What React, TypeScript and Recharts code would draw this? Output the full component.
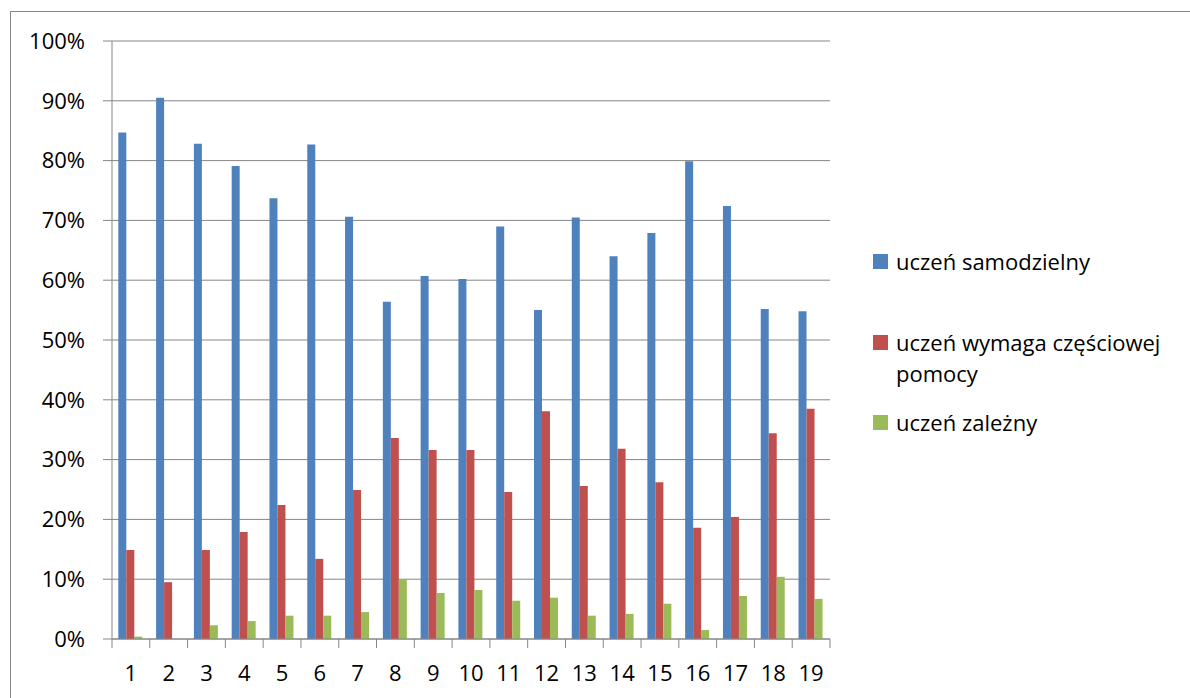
import React from "react";
import { Bar, BarChart, CartesianGrid, Legend, XAxis, YAxis } from "recharts";

// survey results per item, in percent
const categories = ["1", "2", "3", "4", "5", "6", "7", "8", "9", "10", "11", "12", "13", "14", "15", "16", "17", "18", "19"];
const samodzielny = [84.7, 90.5, 82.8, 79.1, 73.7, 82.7, 70.6, 56.4, 60.7, 60.2, 69.0, 55.0, 70.5, 64.0, 67.9, 79.9, 72.4, 55.2, 54.8];
const wymagaPomocy = [14.9, 9.5, 14.9, 17.9, 22.4, 13.4, 24.9, 33.6, 31.6, 31.6, 24.6, 38.1, 25.6, 31.8, 26.2, 18.6, 20.4, 34.4, 38.5];
const zalezny = [0.4, 0, 2.3, 3.0, 3.9, 3.9, 4.5, 10.0, 7.7, 8.2, 6.4, 6.9, 3.9, 4.2, 5.9, 1.5, 7.2, 10.4, 6.7];
const seriesNames = ["uczeń samodzielny", "uczeń wymaga częściowej pomocy", "uczeń zależny"];
const yTicks = [0, 10, 20, 30, 40, 50, 60, 70, 80, 90, 100];

const COLORS = ["#4F81BD", "#C0504D", "#9BBB59"];
const GREY = "#868686";
const FONT = '"Open Sans", sans-serif';

const data = categories.map((name, i) => ({
  name,
  a: samodzielny[i],
  b: wymagaPomocy[i],
  c: zalezny[i],
}));

// category labels centred, tick marks on the category boundaries (Excel style)
const CategoryTick = (props: any) => {
  const { x, y, payload } = props;
  const half = payload.offset || 18.9;
  const isLast = payload.value === categories[categories.length - 1];
  return (
    <g>
      <line x1={x - half} x2={x - half} y1={y} y2={y + 9} stroke={GREY} />
      {isLast && <line x1={x + half} x2={x + half} y1={y} y2={y + 9} stroke={GREY} />}
      <text x={x} y={y + 42} textAnchor="middle" fontSize={22} fill="#000" fontFamily={FONT}>
        {payload.value}
      </text>
    </g>
  );
};

const entryGaps = [0, 50.5, 19];

const renderLegend = (props: any) => {
  const items = props.payload || [];
  return (
    <div style={{ fontSize: 22, lineHeight: "30.5px", color: "#000", fontFamily: FONT }}>
      {items.map((it: any, i: number) => (
        <div key={it.value} style={{ position: "relative", paddingLeft: 23, width: 290, marginTop: entryGaps[i] }}>
          <span
            style={{ position: "absolute", left: 0, top: 8, width: 15, height: 15, background: it.color }}
          />
          {it.value}
        </div>
      ))}
    </div>
  );
};

export default function App() {
  return (
    <div style={{ position: "fixed", left: 0, top: 0, width: 1190, height: 698, overflow: "hidden", background: "#fff", fontFamily: FONT }}>
      <div style={{ position: "absolute", left: 10, top: 11, width: 1300, height: 800, border: `1px solid ${GREY}` }} />
      <div style={{ position: "absolute", left: 0, top: 0 }}>
        <BarChart
          width={1190}
          height={698}
          data={data}
          margin={{ top: 41, right: 360, bottom: 0, left: 0 }}
          barCategoryGap="16.7%"
          barGap={0}
        >
          <CartesianGrid horizontal vertical={false} stroke={GREY} strokeWidth={1} />
          <XAxis
            dataKey="name"
            interval={0}
            height={59}
            tickLine={false}
            tickSize={0}
            tickMargin={0}
            axisLine={{ stroke: GREY }}
            tick={<CategoryTick />}
          />
          <YAxis
            width={112}
            domain={[0, 100]}
            ticks={yTicks}
            interval={0}
            tickFormatter={(v: number) => `${v}%`}
            tickSize={9}
            tickMargin={18}
            tickLine={{ stroke: GREY }}
            axisLine={{ stroke: GREY }}
            tick={{ fontSize: 22, fill: "#000", fontFamily: FONT }}
          />
          <Legend
            layout="vertical"
            align="center"
            verticalAlign="middle"
            content={renderLegend}
            wrapperStyle={{ left: 873, top: 246, width: 320 }}
          />
          <Bar dataKey="a" name={seriesNames[0]} fill={COLORS[0]} isAnimationActive={false} />
          <Bar dataKey="b" name={seriesNames[1]} fill={COLORS[1]} isAnimationActive={false} />
          <Bar dataKey="c" name={seriesNames[2]} fill={COLORS[2]} isAnimationActive={false} />
        </BarChart>
      </div>
    </div>
  );
}
